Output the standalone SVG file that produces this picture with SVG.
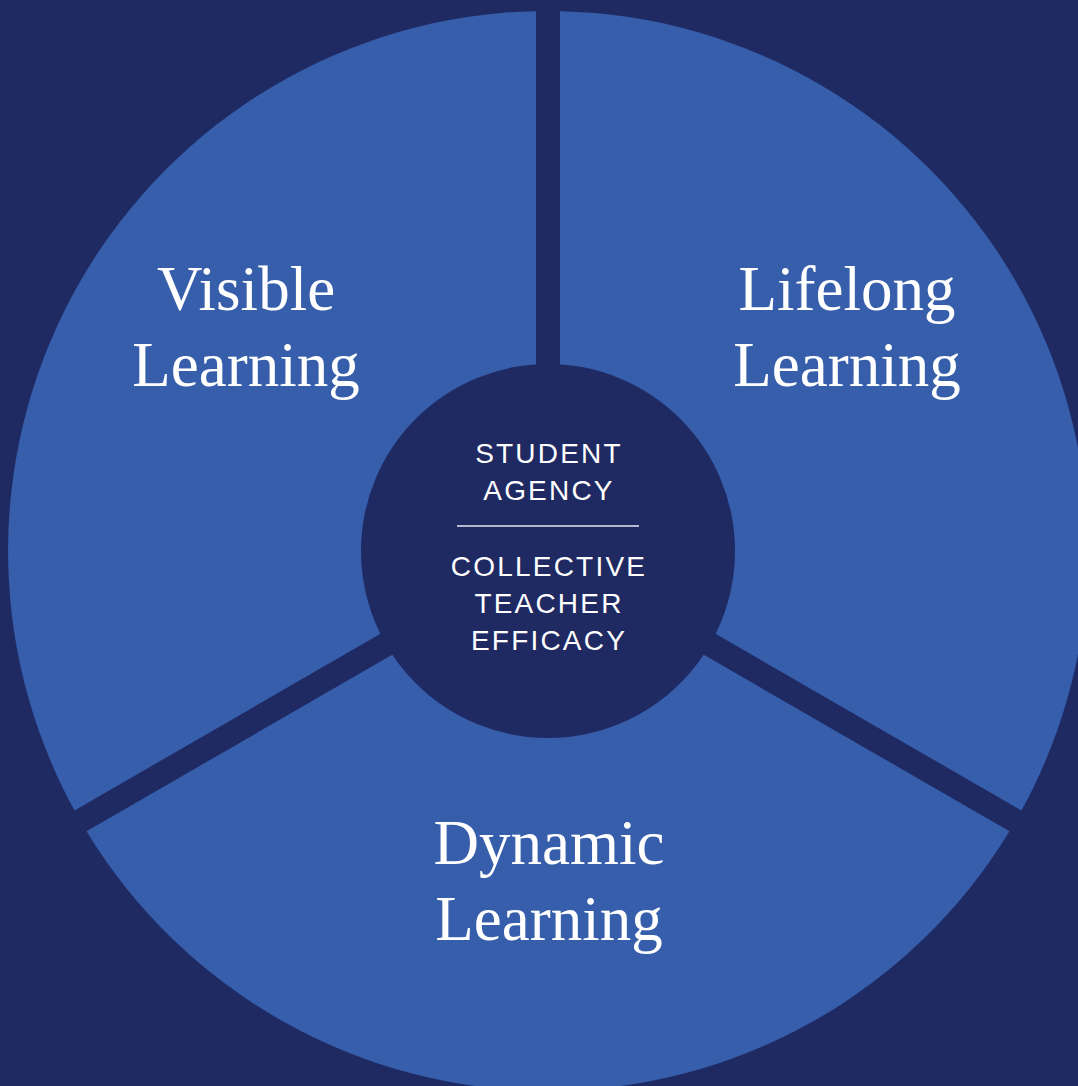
<svg xmlns="http://www.w3.org/2000/svg" width="1078" height="1086" viewBox="0 0 1078 1086">
<style>
.wedge{fill:#365EAB}
.big{font-family:"Liberation Serif",serif;font-size:63px;fill:#ffffff;text-anchor:middle}
.small{font-family:"Liberation Sans",Arial,sans-serif;font-size:28px;fill:#ffffff;text-anchor:middle;letter-spacing:2.2px}
</style>
<rect x="0" y="0" width="1078" height="1086" fill="#1F2A63"/>
<g id="visible-learning">
<path class="wedge" d="M 536 544.07 L 74.5 810.5 A 540 540 0 0 1 536 11.13 Z"/>
<text class="big" x="246" y="310">Visible</text>
<text class="big" x="246" y="386">Learning</text>
</g>
<g id="lifelong-learning">
<path class="wedge" d="M 560 544.07 L 560 11.13 A 540 540 0 0 1 1021.5 810.5 Z"/>
<text class="big" x="847" y="310">Lifelong</text>
<text class="big" x="847" y="386">Learning</text>
</g>
<g id="dynamic-learning">
<path class="wedge" d="M 548 564.86 L 1009.5 831.3 A 540 540 0 0 1 86.5 831.3 Z"/>
<text class="big" x="549" y="864">Dynamic</text>
<text class="big" x="549" y="940">Learning</text>
</g>
<g id="center">
<circle cx="548" cy="551" r="187" fill="#1F2A63"/>
<text class="small" x="549" y="463">STUDENT</text>
<text class="small" x="549" y="500">AGENCY</text>
<line x1="457" y1="526" x2="639" y2="526" stroke="#E6E8F0" stroke-width="1.5"/>
<text class="small" x="549" y="576">COLLECTIVE</text>
<text class="small" x="549" y="613">TEACHER</text>
<text class="small" x="549" y="650">EFFICACY</text>
</g>
</svg>
